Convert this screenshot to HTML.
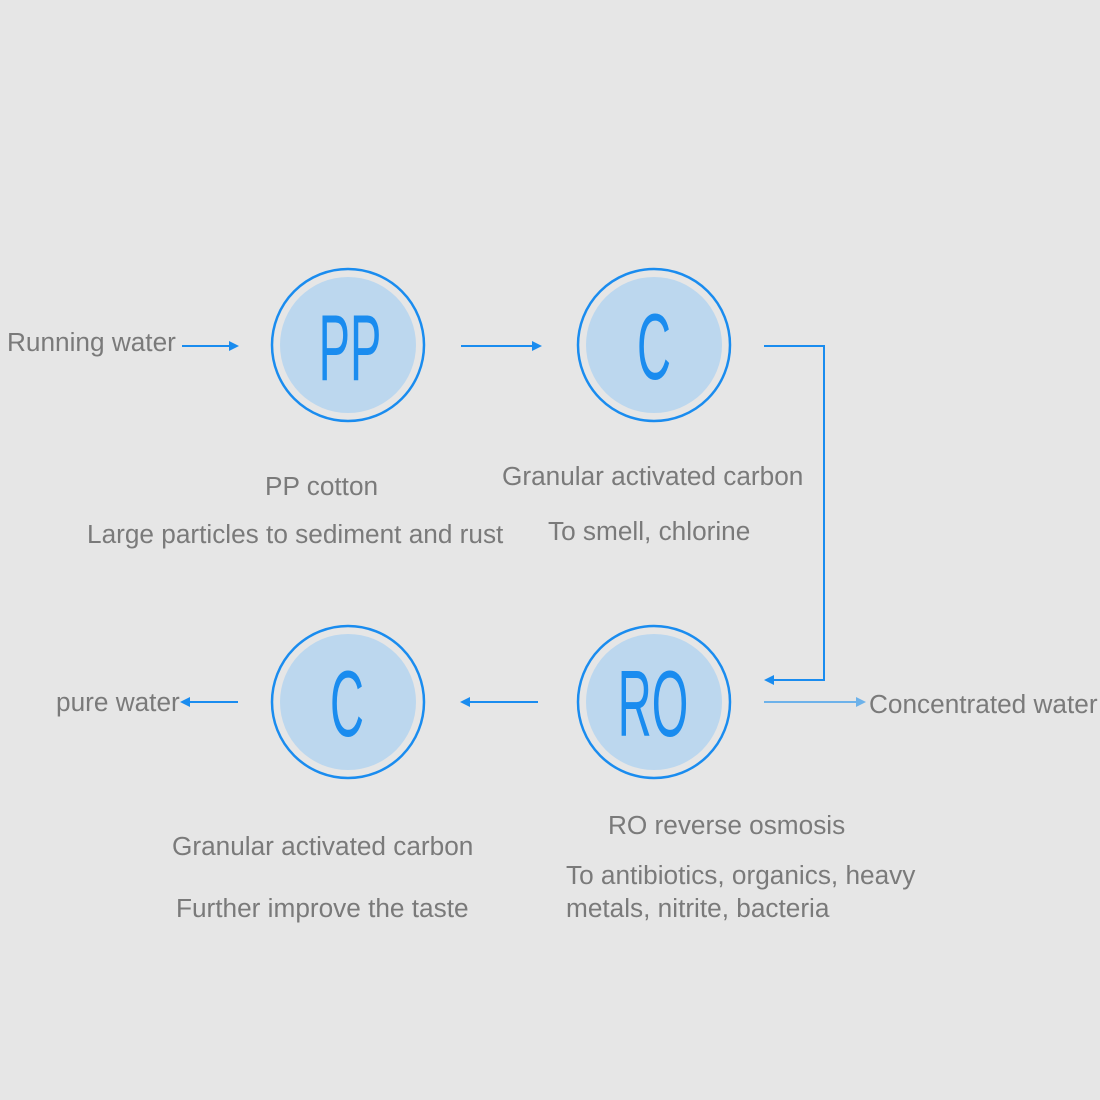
<!DOCTYPE html>
<html><head><style>
body{margin:0;background:#e6e6e6;}
svg{display:block}
text{font-family:"Liberation Sans",sans-serif;}
.t{fill:#7a7a7a;font-size:26.2px;}
.L{fill:#1a8cef;font-size:94px;}
</style></head><body>
<svg width="1100" height="1100" viewBox="0 0 1100 1100">
<rect width="1100" height="1100" fill="#e6e6e6"/>
<defs>
<marker id="a" markerWidth="10" markerHeight="10" refX="8" refY="5" orient="auto" markerUnits="userSpaceOnUse"><path d="M0,0 L10,5 L0,10z" fill="#1a8cef"/></marker>
<marker id="b" markerWidth="10" markerHeight="10" refX="8" refY="5" orient="auto" markerUnits="userSpaceOnUse"><path d="M0,0 L10,5 L0,10z" fill="#6db2ea"/></marker>
</defs>
<g stroke="#1a8cef" stroke-width="2.5" fill="#e6e6e6">
<circle cx="348" cy="345" r="76"/><circle cx="654" cy="345" r="76"/>
<circle cx="348" cy="702" r="76"/><circle cx="654" cy="702" r="76"/>
</g>
<g fill="#bcd7ee">
<circle cx="348" cy="345" r="68"/><circle cx="654" cy="345" r="68"/>
<circle cx="348" cy="702" r="68"/><circle cx="654" cy="702" r="68"/>
</g>
<g class="L" text-anchor="middle">
<text transform="translate(350,380) scale(0.5,1)">PP</text>
<text transform="translate(654,379) scale(0.5,1)">C</text>
<text transform="translate(347,736) scale(0.5,1)">C</text>
<text transform="translate(653,736) scale(0.5,1)">RO</text>
</g>
<g stroke="#1a8cef" stroke-width="2" fill="none">
<line x1="182" y1="346" x2="237" y2="346" marker-end="url(#a)"/>
<line x1="461" y1="346" x2="540" y2="346" marker-end="url(#a)"/>
<polyline points="764,346 824,346 824,680 766,680" marker-end="url(#a)"/>
<line x1="538" y1="702" x2="462" y2="702" marker-end="url(#a)"/>
<line x1="238" y1="702" x2="182" y2="702" marker-end="url(#a)"/>
</g>
<line x1="764" y1="702" x2="864" y2="702" stroke="#6db2ea" stroke-width="2" marker-end="url(#b)"/>
<g class="t">
<text x="7" y="351">Running water</text>
<text x="265" y="495">PP cotton</text>
<text x="87" y="543">Large particles to sediment and rust</text>
<text x="502" y="485">Granular activated carbon</text>
<text x="548" y="540">To smell, chlorine</text>
<text x="56" y="711">pure water</text>
<text x="869" y="713">Concentrated water</text>
<text x="172" y="855">Granular activated carbon</text>
<text x="176" y="917">Further improve the taste</text>
<text x="608" y="834">RO reverse osmosis</text>
<text x="566" y="884">To antibiotics, organics, heavy</text>
<text x="566" y="917">metals, nitrite, bacteria</text>
</g>
</svg>
</body></html>
